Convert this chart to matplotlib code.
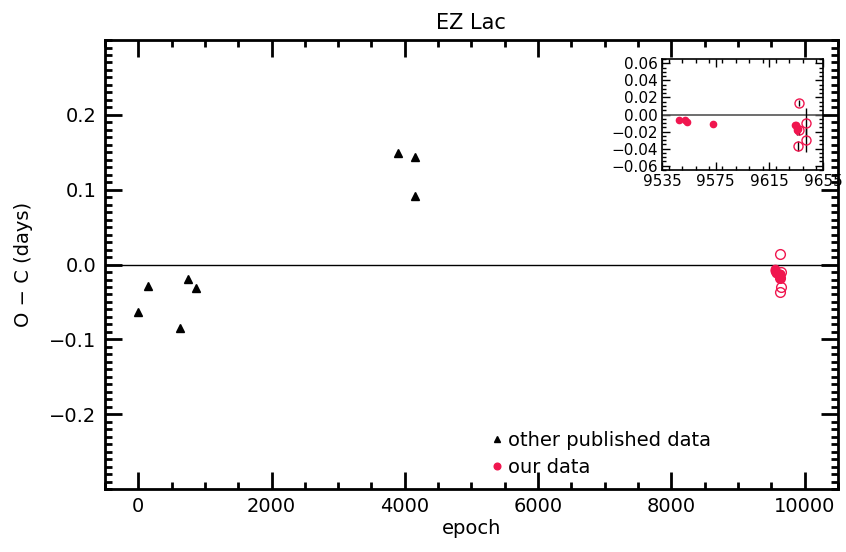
import numpy as np
import matplotlib
matplotlib.use("Agg")
import matplotlib.pyplot as plt
from matplotlib.ticker import MultipleLocator

# other published minima
pub_epoch = [0, 140, 632, 751, 870, 3903, 4156, 4156]
pub_oc = [-0.063, -0.028, -0.085, -0.019, -0.032, 0.149, 0.144, 0.092]

# our data, filled points
our_epoch = [9548, 9552.5, 9553.5, 9573, 9634, 9635, 9635.5, 9636, 9636.5]
our_oc = [-0.0068, -0.0062, -0.0085, -0.0115, -0.0120, -0.0125, -0.0160, -0.0185, -0.0170]
our_err = [0.0010, 0.0010, 0.0010, 0.0015, 0.0030, 0.0040, 0.0060, 0.0060, 0.0050]

# our data, open circles
open_epoch = [9637, 9637, 9636.5, 9642, 9642]
open_oc = [0.0135, -0.0185, -0.0370, -0.0095, -0.0300]
open_err = [0.0030, 0.0060, 0.0060, 0.0170, 0.0140]

red = '#f0164f'
plt.rcParams['font.family'] = ['DejaVu Sans']

fig = plt.figure(figsize=(8.46, 5.52), dpi=100)
ax = fig.add_axes([0.124, 0.114, 0.8665, 0.8135])

ax.axhline(0, color='black', lw=1)
ax.plot(pub_epoch, pub_oc, '^', color='black', ms=6, ls='none', label='other published data')
ax.plot(our_epoch, our_oc, 'o', color=red, ms=6, ls='none', label='our data')
ax.plot(open_epoch, open_oc, 'o', mfc='none', mec=red, ms=7, mew=1, ls='none')

ax.set_xlim(-500, 10500)
ax.set_ylim(-0.3, 0.3)
ax.xaxis.set_major_locator(MultipleLocator(2000))
ax.xaxis.set_minor_locator(MultipleLocator(500))
ax.yaxis.set_major_locator(MultipleLocator(0.1))
ax.yaxis.set_minor_locator(MultipleLocator(0.01))
ax.set_yticks([-0.2, -0.1, 0.0, 0.1, 0.2])
ax.set_yticklabels(['\u22120.2', '\u22120.1', '0.0', '0.1', '0.2'])
ax.tick_params(which='both', direction='in', top=True, right=True, width=2, labelsize=14)
ax.tick_params(which='major', length=12, pad=6)
ax.tick_params(which='minor', length=5)
for s in ax.spines.values():
    s.set_linewidth(2)
ax.set_xlabel('epoch', fontsize=14, labelpad=2)
ax.set_ylabel('O \u2212 C (days)', fontsize=14, labelpad=12)
ax.set_title('EZ Lac', fontsize=15, pad=8)

leg = ax.legend(loc='lower left', bbox_to_anchor=(0.5, -0.012), frameon=False, fontsize=14,
                handletextpad=0.2, markerscale=0.8, handlelength=0.8, labelspacing=0.4)

# inset zoom on our data
ins = fig.add_axes([0.7825, 0.692, 0.1903, 0.201])
ins.axhline(0, color='#555555', lw=1.2)
ins.errorbar(our_epoch, our_oc, yerr=our_err, fmt='o', color=red, ms=4.5,
             ecolor='black', elinewidth=1, capsize=0)
ins.errorbar(open_epoch, open_oc, yerr=open_err, fmt='o', mfc='none', mec=red, ms=6.5,
             mew=1, ecolor='black', elinewidth=1, capsize=0)
ins.set_xlim(9535, 9655)
ins.set_ylim(-0.065, 0.065)
ins.set_xticks([9535, 9575, 9615, 9655])
ins.set_yticks([-0.06, -0.04, -0.02, 0.0, 0.02, 0.04, 0.06])
ins.set_yticklabels(['\u22120.06', '\u22120.04', '\u22120.02', '0.00', '0.02', '0.04', '0.06'])
ins.yaxis.set_minor_locator(MultipleLocator(0.005))
ins.xaxis.set_minor_locator(MultipleLocator(10))
ins.tick_params(which='both', direction='in', top=True, right=True, width=1, labelsize=11)
ins.tick_params(which='major', length=6, pad=3)
ins.tick_params(which='minor', length=3)
for s in ins.spines.values():
    s.set_linewidth(1.2)

fig.savefig('out.png', dpi=100)
